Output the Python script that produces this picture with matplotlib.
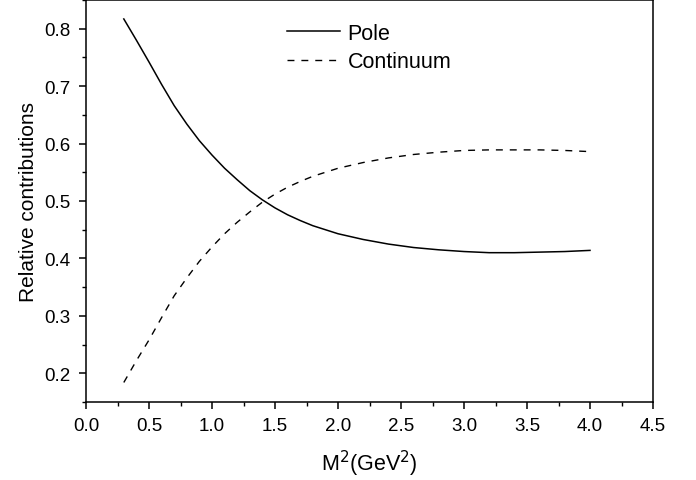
import matplotlib
matplotlib.use("Agg")
import matplotlib.pyplot as plt
from matplotlib.ticker import MultipleLocator

plt.rcParams['font.family'] = ['Liberation Sans', 'DejaVu Sans']

x_pole = [0.3, 0.4, 0.5, 0.6, 0.7, 0.8, 0.9, 1.0, 1.1, 1.2, 1.3, 1.4, 1.5, 1.6, 1.7,
          1.8, 1.9, 2.0, 2.2, 2.4, 2.6, 2.8, 3.0, 3.2, 3.4, 3.6, 3.8, 4.0]
pole = [0.817, 0.780, 0.742, 0.703, 0.666, 0.634, 0.605, 0.580, 0.557, 0.537, 0.518,
        0.502, 0.488, 0.476, 0.466, 0.457, 0.450, 0.443, 0.433, 0.425, 0.419, 0.415,
        0.412, 0.410, 0.410, 0.411, 0.412, 0.414]
x_cont = x_pole
continuum = [0.184, 0.222, 0.258, 0.297, 0.335, 0.366, 0.395, 0.420, 0.443, 0.463, 0.481,
             0.498, 0.512, 0.524, 0.534, 0.543, 0.550, 0.557, 0.567, 0.575, 0.581, 0.585,
             0.588, 0.589, 0.589, 0.589, 0.588, 0.586]
xticks = [0.0, 0.5, 1.0, 1.5, 2.0, 2.5, 3.0, 3.5, 4.0, 4.5]
yticks = [0.2, 0.3, 0.4, 0.5, 0.6, 0.7, 0.8]

fig = plt.figure(figsize=(6.96, 4.81), dpi=100)
ax = fig.add_axes([86/696, 1 - 403/481, (653-86)/696, (403-1)/481])

ax.plot(x_pole, pole, color='black', lw=1.1, label='Pole')
ax.plot(x_cont, continuum, color='black', lw=1.0, dashes=(5, 5), label='Continuum')

ax.set_xlim(0, 4.5)
ax.set_ylim(0.15, 0.85)
ax.set_xticks(xticks)
ax.set_xticklabels([f"{t:.1f}" for t in xticks])
ax.set_yticks(yticks)
ax.set_yticklabels([f"{t:.1f}" for t in yticks])
ax.xaxis.set_minor_locator(MultipleLocator(0.25))
ax.yaxis.set_minor_locator(MultipleLocator(0.05))
ax.tick_params(which='major', direction='out', length=5, width=1.1, labelsize=13.5, pad=6,
               top=False, right=False)
ax.tick_params(which='minor', direction='out', length=3, width=1.0, top=False, right=False)
for s in ax.spines.values():
    s.set_linewidth(1.1)

ax.set_xlabel('M$^2$(GeV$^2$)', fontsize=15.5, labelpad=10)
ax.set_ylabel('Relative contributions', fontsize=15, labelpad=5)

ax.legend(loc='upper left', bbox_to_anchor=(287/696, 1 - 23.5/481), bbox_transform=fig.transFigure,
          frameon=False, fontsize=15.5, handlelength=2.45, handletextpad=0.37, labelspacing=0.37,
          borderaxespad=0.0, borderpad=0.0)

fig.savefig('out.png', dpi=100)
